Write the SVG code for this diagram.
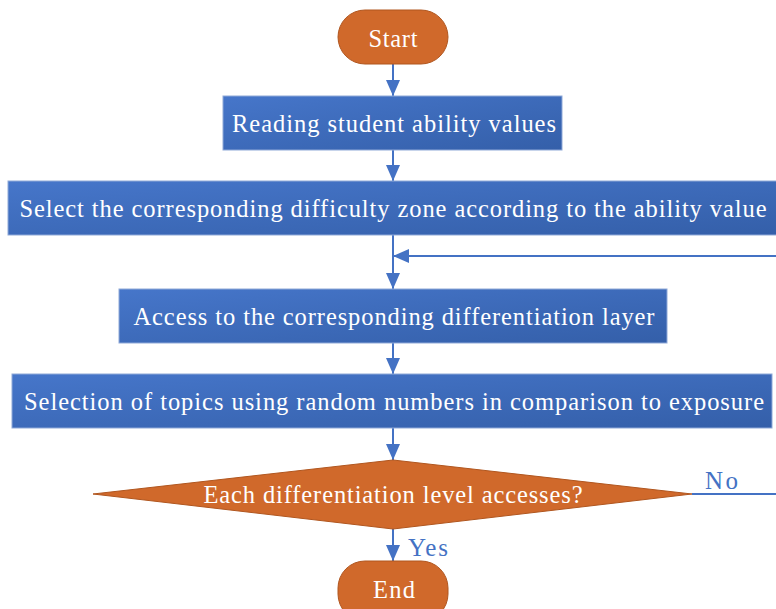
<svg xmlns="http://www.w3.org/2000/svg" width="776" height="609" viewBox="0 0 776 609">
  <defs>
    <linearGradient id="boxFill" x1="0" y1="0" x2="1" y2="1">
      <stop offset="0" stop-color="#4676CA"/>
      <stop offset="1" stop-color="#345FA9"/>
    </linearGradient>
    <marker id="arrow" viewBox="0 0 16 14" refX="16" refY="7" markerWidth="16" markerHeight="14" markerUnits="userSpaceOnUse" orient="auto">
      <path d="M0,0 L16,7 L0,14 Z" fill="#4472C4"/>
    </marker>
    <style>
      .box { fill: url(#boxFill); stroke: #8FA9D8; stroke-width: 1; }
      .term { fill: #D0692B; stroke: #B0561F; stroke-width: 1; }
      .dec { fill: #D0692B; stroke: #B0561F; stroke-width: 1; }
      .lbl { font-family: "Liberation Serif", "Times New Roman", serif; font-size: 24.5px; fill: #FFFFFF; text-anchor: middle; }
      .edge { font-family: "Liberation Serif", "Times New Roman", serif; font-size: 25px; fill: #4472C4; }
      .conn { stroke: #4472C4; stroke-width: 2; fill: none; }
    </style>
  </defs>
  <rect width="776" height="609" fill="#FFFFFF"/>

  <g id="connectors">
    <line class="conn" x1="393" y1="64" x2="393" y2="96" marker-end="url(#arrow)"/>
    <line class="conn" x1="393" y1="150" x2="393" y2="181" marker-end="url(#arrow)"/>
    <line class="conn" x1="393" y1="235" x2="393" y2="289" marker-end="url(#arrow)"/>
    <line class="conn" x1="393" y1="343" x2="393" y2="374" marker-end="url(#arrow)"/>
    <line class="conn" x1="393" y1="428" x2="393" y2="460" marker-end="url(#arrow)"/>
    <line class="conn" x1="393" y1="529" x2="393" y2="561" marker-end="url(#arrow)"/>
    <polyline class="conn" points="692,494 776,494"/>
    <line class="conn" x1="776" y1="256" x2="393" y2="256" marker-end="url(#arrow)"/>
    <text class="edge" x="705" y="489" textLength="33" lengthAdjust="spacing">No</text>
    <text class="edge" x="408" y="556" textLength="40" lengthAdjust="spacing">Yes</text>
  </g>

  <g id="start">
    <rect class="term" x="338" y="10" width="110" height="54" rx="27" ry="27"/>
    <text class="lbl" x="393" y="47" textLength="49" lengthAdjust="spacing">Start</text>
  </g>

  <g id="read-ability">
    <rect class="box" x="223" y="96" width="339" height="54"/>
    <text class="lbl" x="394" y="132" textLength="324" lengthAdjust="spacing">Reading student ability values</text>
  </g>

  <g id="select-zone">
    <rect class="box" x="8" y="181" width="770" height="54"/>
    <text class="lbl" x="393" y="217" textLength="747" lengthAdjust="spacing">Select the corresponding difficulty zone according to the ability value</text>
  </g>

  <g id="access-layer">
    <rect class="box" x="119" y="289" width="548" height="54"/>
    <text class="lbl" x="394" y="325" textLength="521" lengthAdjust="spacing">Access to the corresponding differentiation layer</text>
  </g>

  <g id="select-topics">
    <rect class="box" x="12" y="374" width="760" height="54"/>
    <text class="lbl" x="394" y="410" textLength="740" lengthAdjust="spacing">Selection of topics using random numbers in comparison to exposure</text>
  </g>

  <g id="level-check">
    <polygon class="dec" points="393,460 692,494 393,529 93,494"/>
    <text class="lbl" x="393" y="503" textLength="379" lengthAdjust="spacing">Each differentiation level accesses?</text>
  </g>

  <g id="end">
    <rect class="term" x="338" y="561" width="110" height="60" rx="27" ry="27"/>
    <text class="lbl" x="394" y="598" textLength="42" lengthAdjust="spacing">End</text>
  </g>
</svg>
